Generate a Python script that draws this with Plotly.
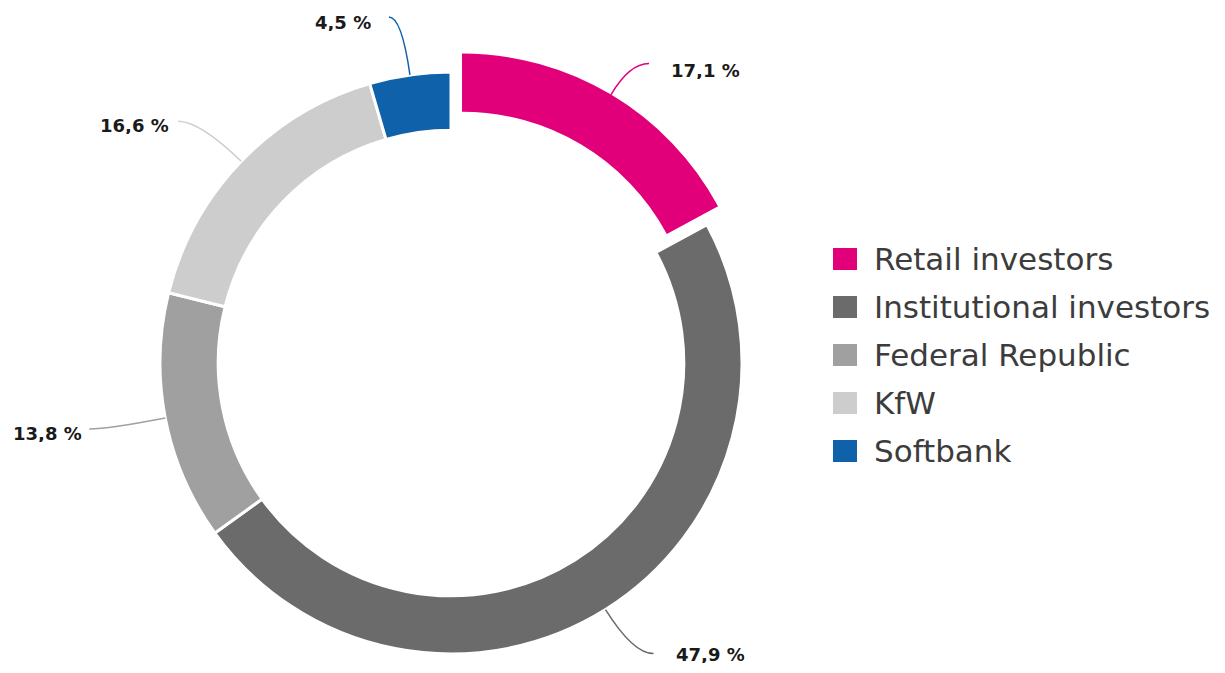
import math
import plotly.graph_objects as go

# ---- data ----
categories = ["Retail investors", "Institutional investors", "Federal Republic", "KfW", "Softbank"]
shares = [17.1, 47.9, 13.8, 16.6, 4.5]
value_labels = ["17,1 %", "47,9 %", "13,8 %", "16,6 %", "4,5 %"]

# ---- styles ----
colors = ["#E2007A", "#6B6B6B", "#A0A0A0", "#CDCDCD", "#0F62AA"]
pulled = [True, False, False, False, False]
PULL_PX = 21.5
leader_offsets = [(38, -31), (48, 44), (-76, 11), (-63, -40), (-21, -58)]
label_gap = [20, 20, 5, 7, 16]
label_dy = [6, 0, 4, 4, 5]

PAGE_OFF = 8  # body margin of the html page
W, H = 1225 - PAGE_OFF, 673 - 2 * PAGE_OFF  # figure size fitting in the window
CX, CY = 451, 363  # target centre on the page
R = 291
TRANSP = "rgba(0,0,0,0)"


def px(x, y):
    return (x - PAGE_OFF) / W, 1 - (y - PAGE_OFF) / H


def domain_for(cx, cy, r):
    fx, fy = cx - PAGE_OFF, cy - PAGE_OFF
    return dict(x=[(fx - r) / W, (fx + r) / W], y=[1 - (fy + r) / H, 1 - (fy - r) / H])


total = sum(shares)
mids = []
cum = 0.0
for v in shares:
    mids.append((cum + v / 2) / total * 2 * math.pi)
    cum += v

fig = go.Figure()
# base ring (non-pulled slices)
fig.add_trace(go.Pie(
    labels=categories, values=shares, sort=False, direction="clockwise", rotation=0,
    hole=0.8, textinfo="none", hoverinfo="label+percent",
    marker=dict(colors=[TRANSP if p else c for c, p in zip(colors, pulled)],
                line=dict(color=[TRANSP if p else "white" for p in pulled], width=3)),
    domain=domain_for(CX, CY, R), showlegend=False,
))
# pulled slice(s): same ring translated along the slice's mid angle
for i, p in enumerate(pulled):
    if not p:
        continue
    ox = CX + PULL_PX * math.sin(mids[i])
    oy = CY - PULL_PX * math.cos(mids[i])
    fig.add_trace(go.Pie(
        labels=categories, values=shares, sort=False, direction="clockwise", rotation=0,
        hole=0.8, textinfo="none", hoverinfo="label+percent",
        marker=dict(colors=[colors[j] if j == i else TRANSP for j in range(len(shares))],
                    line=dict(color=["white" if j == i else TRANSP for j in range(len(shares))], width=0)),
        domain=domain_for(ox, oy, R), showlegend=False,
    ))

shapes = []
annotations = []
for i, v in enumerate(shares):
    s, c = math.sin(mids[i]), math.cos(mids[i])
    rr = R + (PULL_PX if pulled[i] else 0)
    x0, y0 = CX + rr * s, CY - rr * c
    dx, dy = leader_offsets[i]
    x2, y2 = x0 + dx, y0 + dy
    t = (y2 - y0) / (-c) if abs(c) > 1e-6 else 0
    x1 = x0 + t * s
    lo, hi = min(x0, x2), max(x0, x2)
    x1 = min(max(x1, lo), hi)
    y1 = y2
    a0, a1, a2 = px(x0, y0), px(x1, y1), px(x2, y2)
    shapes.append(dict(
        type="path", xref="paper", yref="paper",
        path=f"M {a0[0]},{a0[1]} Q {a1[0]},{a1[1]} {a2[0]},{a2[1]}",
        line=dict(color=colors[i], width=1.5),
    ))
    right = dx > 0
    tx = x2 + label_gap[i] if right else x2 - label_gap[i]
    ty = y2 + label_dy[i]
    p = px(tx, ty)
    annotations.append(dict(
        x=p[0], y=p[1], xref="paper", yref="paper", showarrow=False,
        text=f"<b>{value_labels[i]}</b>", xanchor="left" if right else "right",
        yanchor="middle", height=18,
        font=dict(family="DejaVu Sans", size=18, color="#1a1a1a"),
    ))

# custom legend
LX, LY0, LSTEP = 833, 259, 48
for i, name in enumerate(categories):
    yc = LY0 + i * LSTEP
    p0 = px(LX, yc - 11)
    p1 = px(LX + 24, yc + 11)
    shapes.append(dict(type="rect", xref="paper", yref="paper",
                       x0=p0[0], y0=p1[1], x1=p1[0], y1=p0[1],
                       fillcolor=colors[i], line=dict(width=0)))
    pt = px(LX + 39, yc)
    annotations.append(dict(
        x=pt[0], y=pt[1], xref="paper", yref="paper", showarrow=False,
        text=name, xanchor="left", yanchor="middle",
        font=dict(family="DejaVu Sans", size=31, color="#3c3c3c"),
    ))

fig.update_layout(
    width=W, height=H, margin=dict(l=0, r=0, t=0, b=0),
    paper_bgcolor="white", plot_bgcolor="white",
    shapes=shapes, annotations=annotations, showlegend=False,
)

fig.write_html("out.html")
